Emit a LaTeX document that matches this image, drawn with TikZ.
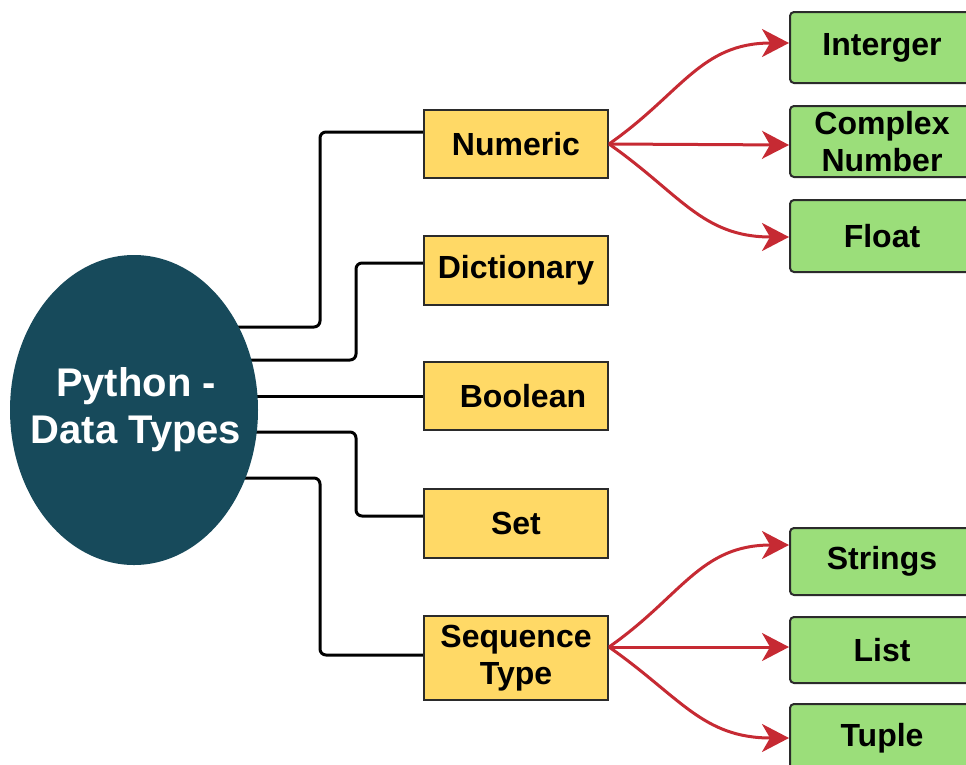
\documentclass[tikz,border=0pt]{standalone}
\usepackage{fontspec}
\setmainfont{Liberation Sans}
\usetikzlibrary{shapes.geometric,arrows.meta,backgrounds}
\definecolor{teal}{HTML}{174A5B}
\definecolor{boxyellow}{HTML}{FFD966}
\definecolor{boxgreen}{HTML}{9BDE7A}
\definecolor{arrred}{HTML}{C62A33}
\definecolor{edge}{HTML}{2B2B2B}
\begin{document}
\begin{tikzpicture}[x=1pt,y=-1pt,
  ybox/.style={draw=edge,line width=2pt,fill=boxyellow,minimum width=184pt,inner sep=0pt,
    font=\fontsize{32}{37}\selectfont\bfseries,align=center},
  gbox/.style={draw=edge,line width=2pt,fill=boxgreen,rounded corners=4pt,minimum width=184pt,inner sep=0pt,
    font=\fontsize{32}{37}\selectfont\bfseries,align=center},
  conn/.style={line width=3pt,black,rounded corners=6pt},
  rarr/.style={line width=3pt,arrred,-{Stealth[length=27pt,width=28pt,inset=8pt]}},
]
\useasboundingbox (0,0) rectangle (966,764);
\clip (0,0) rectangle (966,764);

\node[ellipse,fill=teal,minimum width=248pt,minimum height=310pt,inner sep=0pt] (ell) at (134,410) {};
\node[text=white,align=center,inner sep=0pt,font=\fontsize{40}{47}\selectfont\bfseries] (elltext) at (136,410) {Python -\\Data Types};

\node[ybox,minimum height=68pt] (num) at (516,144) {Numeric};
\node[ybox,minimum height=69pt] (dict) at (516,270.5) {Dictionary};
\node[ybox,minimum height=68pt] (bool) at (516,396) {\hspace{14pt}Boolean};
\node[ybox,minimum height=69pt] (set) at (516,523.5) {Set};
\node[ybox,minimum height=84pt] (seq) at (516,658) {Sequence\\Type};

\node[gbox,minimum height=71pt] (int) at (882,47.5) {Interger};
\node[gbox,minimum height=71pt] (cpx) at (882,141.5) {Complex\\Number};
\node[gbox,minimum height=72pt] (flt) at (882,236) {Float};
\node[gbox,minimum height=67pt] (str) at (882,561.5) {Strings};
\node[gbox,minimum height=66pt] (lst) at (882,650) {List};
\node[gbox,minimum height=68pt] (tup) at (882,738) {Tuple};

\begin{scope}[on background layer]
\draw[conn] ([yshift=83pt]ell.center) -- ++(186,0) |- ([yshift=12pt]num.west);
\draw[conn] ([yshift=50pt]ell.center) -- ++(222,0) |- ([yshift=7.5pt]dict.west);
\draw[conn] (ell.center |- bool.west) -- (bool.west);
\draw[conn] ([yshift=-22pt]ell.center) -- ++(222,0) |- ([yshift=7.5pt]set.west);
\draw[conn] ([yshift=-68pt]ell.center) -- ++(186,0) |- ([yshift=3pt]seq.west);
\end{scope}

\draw[rarr] (num.east) to[out=35,in=180,looseness=1.1] ([yshift=4.5pt]int.west);
\draw[rarr] (num.east) -- ([yshift=-3.5pt]cpx.west);
\draw[rarr] (num.east) to[out=-35,in=180,looseness=1.1] ([yshift=-1pt]flt.west);
\draw[rarr] ([yshift=11pt]seq.east) to[out=35,in=180,looseness=1.1] ([yshift=16.5pt]str.west);
\draw[rarr] ([yshift=11pt]seq.east) -- ([yshift=3pt]lst.west);
\draw[rarr] ([yshift=11pt]seq.east) to[out=-35,in=180,looseness=1.1] (tup.west);
\end{tikzpicture}
\end{document}
